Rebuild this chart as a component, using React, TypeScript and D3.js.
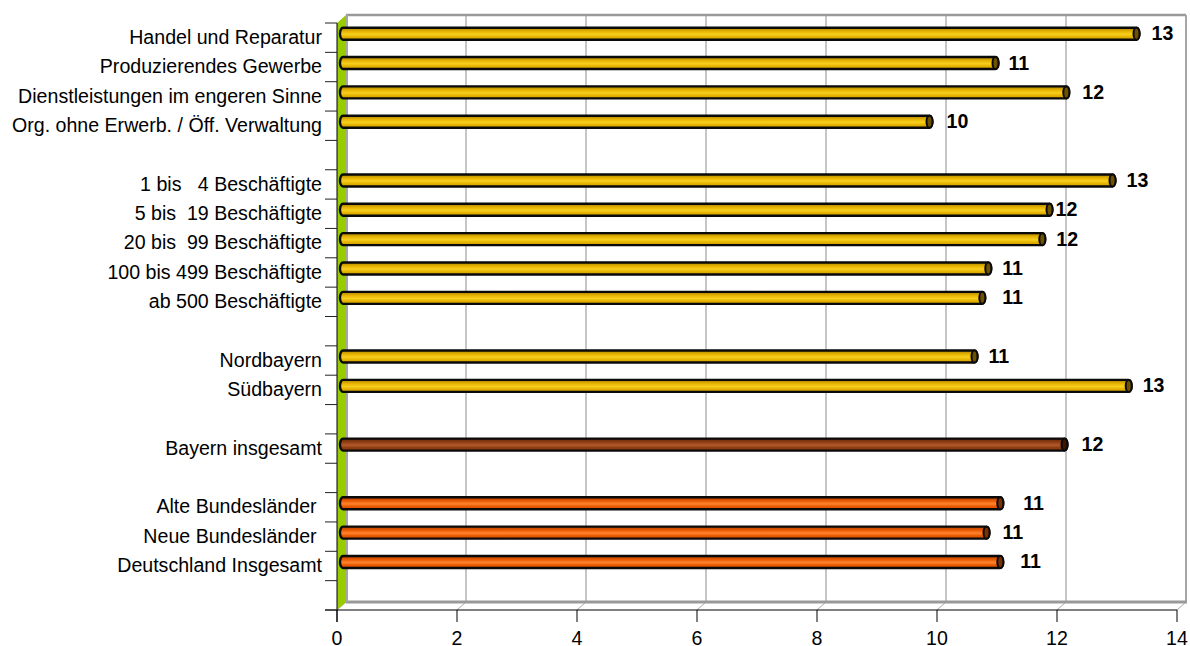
import React from "react";
import * as d3 from "d3";

const categories = [
  "Handel und Reparatur", "Produzierendes Gewerbe", "Dienstleistungen im engeren Sinne", "Org. ohne Erwerb. / Öff. Verwaltung", "",
  "1 bis   4 Beschäftigte", "5 bis  19 Beschäftigte", "20 bis  99 Beschäftigte", "100 bis 499 Beschäftigte", "ab 500 Beschäftigte", " ",
  "Nordbayern", "Südbayern", "  ",
  "Bayern insgesamt", "   ",
  "Alte Bundesländer ", "Neue Bundesländer ", "Deutschland Insgesamt", "    ",
];
const values: (number | null)[] = [
  13.3, 10.95, 12.13, 9.85, null,
  12.9, 11.85, 11.73, 10.83, 10.73, null,
  10.6, 13.17, null,
  12.1, null,
  11.03, 10.8, 11.03, null,
];
const valueLabels = ["13", "11", "12", "10", "", "13", "12", "12", "11", "11", "", "11", "13", "", "12", "", "11", "11", "11", ""];
const groups = ["y", "y", "y", "y", "", "y", "y", "y", "y", "y", "", "y", "y", "", "b", "", "o", "o", "o", ""];
const labelGaps = [15, 13, 16, 17, 0, 14, 6, 14, 14, 20, 0, 14, 14, 0, 17, 0, 23, 16, 20, 0];
const xTicks = [0, 2, 4, 6, 8, 10, 12, 14];

const W = 1190, H = 646;
const X0 = 337, X1 = 1177, Y0 = 23, Y1 = 610, DX = 9, DY = 8;
const FONT = "'Liberation Sans', Arial, sans-serif";

const x = d3.scaleLinear().domain([0, 14]).range([X0, X1]);
const y = d3.scaleBand<number>().domain(d3.range(categories.length)).range([Y0, Y1]);
const rowEdges = d3.range(categories.length + 1).map((i) => Y0 + i * y.step());

const grads: Record<string, [string, string, string, string]> = {
  y: ["#a88000", "#e6b400", "#f8cf20", "#c89a00"],
  b: ["#642808", "#8e3e12", "#b45a2c", "#7e3410"],
  o: ["#b04000", "#ea5a00", "#ff8430", "#cf4c00"],
};

export default function App() {
  return (
    <svg width={W} height={H} viewBox={`0 0 ${W} ${H}`} style={{ position: "absolute", left: 0, top: 0, display: "block", background: "#fff" }}>
      <defs>
        {Object.entries(grads).map(([k, c]) => (
          <linearGradient key={k} id={`g-${k}`} x1="0" y1="0" x2="0" y2="1">
            <stop offset="0" stopColor={c[0]} />
            <stop offset="0.3" stopColor={c[1]} />
            <stop offset="0.55" stopColor={c[2]} />
            <stop offset="0.75" stopColor={c[1]} />
            <stop offset="1" stopColor={c[3]} />
          </linearGradient>
        ))}
      </defs>

      {/* grid lines on the back wall */}
      {xTicks.slice(1, -1).map((t) => (
        <line key={t} x1={x(t) + DX} x2={x(t) + DX} y1={Y0 - DY} y2={Y1 - DY} stroke="#b3b3b3" strokeWidth={1.5} />
      ))}
      {/* floor diagonals */}
      {xTicks.map((t) => (
        <line key={t} x1={x(t)} y1={Y1} x2={x(t) + DX} y2={Y1 - DY} stroke="#a6a6a6" strokeWidth={1} />
      ))}
      {/* wall frame */}
      <line x1={X0 + DX} x2={X1 + DX} y1={Y0 - DY} y2={Y0 - DY} stroke="#999" strokeWidth={2.5} />
      <line x1={X1 + DX} x2={X1 + DX} y1={Y0 - DY} y2={Y1 - DY} stroke="#a6a6a6" strokeWidth={2} />
      <line x1={X0 + DX} x2={X1 + DX + 1} y1={Y1 - DY} y2={Y1 - DY} stroke="#999" strokeWidth={3} />
      <line x1={X0 + DX + 1} x2={X0 + DX + 1} y1={Y0 - DY} y2={Y1 - DY} stroke="#a6a6a6" strokeWidth={2} />
      {/* green side wall */}
      <polygon points={`${X0},${Y0} ${X0 + DX},${Y0 - DY} ${X0 + DX},${Y1 - DY} ${X0},${Y1}`} fill="#99cc00" />

      {/* axes */}
      <line x1={X0} x2={X0} y1={Y0} y2={Y1 + 12} stroke="#000" strokeWidth={1} />
      <line x1={X0 - 12} x2={X1} y1={Y1} y2={Y1} stroke="#000" strokeWidth={1} />
      {rowEdges.map((yy, i) => (
        <line key={i} x1={X0 - 12} x2={X0} y1={yy} y2={yy} stroke="#222" strokeWidth={1} />
      ))}
      {xTicks.map((t) => (
        <g key={t}>
          <line x1={x(t)} x2={x(t)} y1={Y1} y2={Y1 + 12} stroke="#000" strokeWidth={1} />
          <text x={x(t)} y={Y1 + 34.5} textAnchor="middle" fontFamily={FONT} fontSize={19.6} fill="#000">{t}</text>
        </g>
      ))}

      {/* bars */}
      {categories.map((_, i) => {
        const v = values[i];
        if (v == null) return null;
        const cy = (y(i) as number) + y.bandwidth() / 2 - 4;
        const left = X0 + 3;
        const right = x(v) + 1.5;
        const h = 12, rx = 3;
        const body = `M${left + rx},${cy - h / 2} L${right},${cy - h / 2} A${rx},${h / 2} 0 0 1 ${right},${cy + h / 2} L${left + rx},${cy + h / 2} A${rx},${h / 2} 0 0 1 ${left + rx},${cy - h / 2} Z`;
        return (
          <g key={i}>
            <path d={body} fill={`url(#g-${groups[i]})`} stroke="#0a0a0a" strokeWidth={2.4} />
            <ellipse cx={right} cy={cy} rx={rx} ry={h / 2} fill={groups[i] === "y" ? "#6e5200" : groups[i] === "b" ? "#3a1604" : "#7a3000"} stroke="#0a0a0a" strokeWidth={2} />
            <text x={right + labelGaps[i]} y={cy + 6.5} fontFamily={FONT} fontSize={19.6} fontWeight="bold" fill="#000">{valueLabels[i]}</text>
          </g>
        );
      })}

      {/* category labels */}
      {categories.map((c, i) => (
        <text key={i} x={322} y={(y(i) as number) + y.bandwidth() / 2 + 6.2} textAnchor="end" fontFamily={FONT} fontSize={19.6} fill="#000" style={{ whiteSpace: "pre" }}>{c}</text>
      ))}
    </svg>
  );
}
